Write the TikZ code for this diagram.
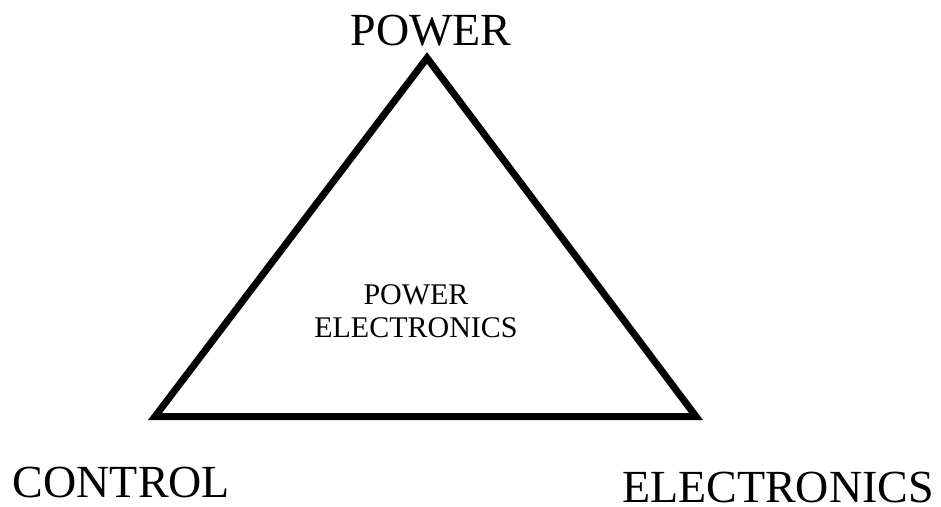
\documentclass[tikz,border=0pt]{standalone}
\usepackage{fontspec}
\setmainfont{Liberation Serif}
\begin{document}
\begin{tikzpicture}[x=1pt,y=-1pt,
  biglabel/.style={inner sep=0pt,anchor=base,font=\fontsize{46}{50}\selectfont},
  smalllabel/.style={inner sep=0pt,align=center,font=\fontsize{30}{33}\selectfont},
  triline/.style={line width=7pt,line join=miter}]
\useasboundingbox (0,0) rectangle (941,506);
\coordinate (T) at (427,58);
\coordinate (L) at (155,416.5);
\coordinate (R) at (696,416.5);
\draw[triline] (T) -- (L) -- (R) -- cycle;
\node[biglabel] (power) at (431,45) {POWER};
\node[biglabel] (control) at (121.5,497) {CONTROL};
\node[biglabel] (electronics) at (778,502.5) {ELECTRONICS};
\node[smalllabel,anchor=north] (pe) at (416,284) {POWER\\ELECTRONICS};
\end{tikzpicture}
\end{document}
